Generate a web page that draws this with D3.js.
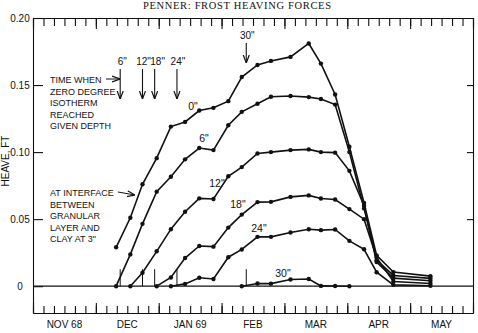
<!DOCTYPE html>
<html>
<head>
<meta charset="utf-8">
<script src="https://cdn.jsdelivr.net/npm/d3@7"></script>
<style>
  body { margin: 0; background: #fff; }
  svg { display: block; }
  text { font-family: 'Liberation Sans', Arial, sans-serif; fill: #111; }
</style>
</head>
<body>
<script>
// weekly survey dates (heave, ft)
const dates = [
  '1968-12-11', '1968-12-18', '1968-12-24', '1968-12-31', '1969-01-07', '1969-01-14',
  '1969-01-21', '1969-01-28', '1969-02-04', '1969-02-10', '1969-02-17', '1969-02-23',
  '1969-03-04', '1969-03-13', '1969-03-19', '1969-03-26', '1969-04-02', '1969-04-09',
  '1969-04-15', '1969-04-23', '1969-05-11'
]
const heave0 = [0.029, 0.051, 0.076, 0.0955, 0.119, 0.1225, 0.131, 0.133, 0.138, 0.156, 0.165,
  0.168, 0.171, 0.181, 0.166, 0.143, 0.104, 0.062, 0.023, 0.0105, 0.0075]
const heave6 = [0, 0.0237, 0.0465, 0.0705, 0.0816, 0.0946, 0.103, 0.1015, 0.120, 0.130, 0.136,
  0.1413, 0.1418, 0.141, 0.1396, 0.1354, 0.100, 0.058, 0.0194, 0.008, 0.0058]
const heave12 = [null, 0, 0.010, 0.026, 0.0425, 0.0555, 0.0655, 0.065, 0.082, 0.0888, 0.099,
  0.100, 0.1015, 0.102, 0.100, 0.0996, 0.086, 0.060, 0.018, 0.006, 0.004]
const heave18 = [null, null, null, 0, 0.0065, 0.021, 0.030, 0.0295, 0.0437, 0.0534, 0.0627,
  0.0629, 0.0666, 0.0677, 0.0654, 0.0646, 0.0575, 0.050, 0.0213, 0.0035, 0.002]
const heave24 = [null, null, null, null, 0, 0.0017, 0.0063, 0.0054, 0.0216, 0.0274, 0.0368,
  0.0368, 0.040, 0.0425, 0.0418, 0.0423, 0.0338, 0.0275, 0.0104, 0.001, 0.0003]
const heave30 = [null, null, null, null, null, null, null, null, null, 0, 0.002,
  0.0019, 0.005, 0.0054, 0.0002, 0.0001, 0, null, null, null, null]

// time when zero degree isotherm reached given depth
const isoDepths = ['6"', '12"', '18"', '24"', '30"']
const isoDates = ['1968-12-13', '1968-12-24', '1968-12-30', '1969-01-10', '1969-02-12']

const monthLabels = ['NOV 68', 'DEC', 'JAN 69', 'FEB', 'MAR', 'APR', 'MAY']
const yTicks = [0, 0.05, 0.10, 0.15, 0.20]

const W = 478, H = 333

// months counted from 1 Nov 1968, each month drawn the same width
function monthPos(s) {
  const [yr, m, d] = s.split('-').map(Number)
  const days = new Date(yr, m, 0).getDate()
  return (yr - 1968) * 12 + (m - 11) + (d - 1) / days
}

const x = d3.scaleLinear().domain([0, 7]).range([33, 473])
const y = d3.scaleLinear().domain([-0.02, 0.2]).range([313, 18])

const svg = d3.select('body').append('svg')
  .attr('width', W)
  .attr('height', H)

svg.append('defs').append('marker')
  .attr('id', 'head')
  .attr('viewBox', '0 -4 8 8')
  .attr('refX', 8)
  .attr('refY', 0)
  .attr('markerWidth', 8)
  .attr('markerHeight', 8)
  .attr('markerUnits', 'userSpaceOnUse')
  .attr('orient', 'auto')
  .append('path')
  .attr('d', 'M0,-3L8,0L0,3')
  .attr('fill', 'none')
  .attr('stroke', '#111')
  .attr('stroke-width', 1.2)

// page header
svg.append('text')
  .attr('x', 143)
  .attr('y', 9)
  .attr('textLength', 188)
  .style('font-family', "'Liberation Serif', serif")
  .style('font-size', '10.5px')
  .text('PENNER: FROST HEAVING FORCES')

const minor = d3.range(0, 7 + 1e-9, 1 / 6)
const major = d3.range(0, 8)

function styleAxis(g) {
  g.selectAll('path, line').attr('stroke', '#111').attr('stroke-width', 1.1)
  g.selectAll('text').remove()
}

svg.append('g').attr('transform', `translate(0,${y(0.2)})`)
  .call(d3.axisTop(x).tickValues(minor).tickSize(-8).tickSizeOuter(0)).call(styleAxis)
svg.append('g').attr('transform', `translate(0,${y(0.2)})`)
  .call(d3.axisTop(x).tickValues(major).tickSize(-11).tickSizeOuter(0)).call(styleAxis)
svg.append('g').attr('transform', `translate(0,${y(-0.02)})`)
  .call(d3.axisBottom(x).tickValues(minor).tickSize(-7).tickSizeOuter(0)).call(styleAxis)
svg.append('g').attr('transform', `translate(0,${y(-0.02)})`)
  .call(d3.axisBottom(x).tickValues(major).tickSize(-10).tickSizeOuter(0)).call(styleAxis)

svg.append('g').attr('transform', `translate(${x(7)},0)`)
  .call(d3.axisRight(y).tickValues([0.05, 0.10, 0.15]).tickSize(-6).tickSizeOuter(0))
  .call(styleAxis)

const yAxis = svg.append('g').attr('transform', `translate(${x(0)},0)`)
  .call(d3.axisLeft(y).tickValues(yTicks).tickSize(-10).tickSizeOuter(0)
    .tickFormat(d => d === 0 ? '0' : d.toFixed(2)))
yAxis.selectAll('path, line').attr('stroke', '#111').attr('stroke-width', 1.1)
yAxis.selectAll('text')
  .attr('x', -13)
  .attr('text-anchor', 'middle')
  .style('font-size', '10px')
  .attr('fill', '#111')

// month names under the lower axis
svg.append('g').selectAll('text')
  .data(monthLabels)
  .enter()
  .append('text')
  .attr('x', (d, i) => x(i + 0.5))
  .attr('y', 328)
  .attr('text-anchor', 'middle')
  .style('font-size', '10px')
  .text(d => d)

svg.append('text')
  .attr('transform', `translate(9,${161}) rotate(-90)`)
  .attr('text-anchor', 'middle')
  .style('font-size', '10px')
  .text('HEAVE, FT')

svg.append('line')
  .attr('x1', x(0)).attr('x2', x(7))
  .attr('y1', y(0)).attr('y2', y(0))
  .attr('stroke', '#111')
  .attr('stroke-width', 1.3)

// short marks on the zero line at the isotherm dates
svg.append('g').selectAll('line')
  .data(isoDates)
  .enter()
  .append('line')
  .attr('x1', d => x(monthPos(d))).attr('x2', d => x(monthPos(d)))
  .attr('y1', y(0)).attr('y2', y(0) - 17)
  .attr('stroke', '#111')
  .attr('stroke-width', 1)

const series = [heave30, heave24, heave18, heave12, heave6, heave0]
const line = d3.line()
  .defined(d => d.v != null)
  .x(d => x(monthPos(d.t)))
  .y(d => y(d.v))

series.forEach(vals => {
  const pts = dates.map((t, i) => ({ t, v: vals[i] }))
  svg.append('path')
    .datum(pts)
    .attr('d', line)
    .attr('fill', 'none')
    .attr('stroke', '#111')
    .attr('stroke-width', 1.6)
  svg.append('g').selectAll('circle')
    .data(pts.filter(p => p.v != null))
    .enter()
    .append('circle')
    .attr('cx', d => x(monthPos(d.t)))
    .attr('cy', d => y(d.v))
    .attr('r', 2.2)
    .attr('fill', '#111')
})

// arrows for the isotherm dates
isoDates.forEach((d, i) => {
  const px = x(monthPos(d))
  const deep = i === 4
  const top = deep ? 43 : 69
  const bot = deep ? 63 : 99
  svg.append('line')
    .attr('x1', px).attr('x2', px)
    .attr('y1', top).attr('y2', bot)
    .attr('stroke', '#111')
    .attr('stroke-width', 1.1)
    .attr('marker-end', 'url(#head)')
  svg.append('text')
    .attr('x', px + (i === 2 ? 3 : i === 0 ? 2 : 1))
    .attr('y', top - 4)
    .attr('text-anchor', 'middle')
    .style('font-size', '10px')
    .text(isoDepths[i])
})

function noteBlock(lines, x0, y0) {
  svg.append('g').selectAll('text')
    .data(lines)
    .enter()
    .append('text')
    .attr('x', x0)
    .attr('y', (d, i) => y0 + i * 11.5)
    .style('font-size', '9px')
    .text(d => d)
}

noteBlock(['TIME WHEN', 'ZERO DEGREE', 'ISOTHERM', 'REACHED', 'GIVEN DEPTH'], 50, 83)
svg.append('line')
  .attr('x1', 106).attr('x2', 120)
  .attr('y1', 79).attr('y2', 79)
  .attr('stroke', '#111')
  .attr('stroke-width', 1)
  .attr('marker-end', 'url(#head)')

noteBlock(['AT INTERFACE', 'BETWEEN', 'GRANULAR', 'LAYER AND', 'CLAY AT 3"'], 50, 196)
svg.append('line')
  .attr('x1', 118).attr('x2', 135)
  .attr('y1', 192).attr('y2', 195)
  .attr('stroke', '#111')
  .attr('stroke-width', 1)
  .attr('marker-end', 'url(#head)')

// depth labels beside each curve
const curveLabels = [
  { t: '0"', x: 193, y: 110 },
  { t: '6"', x: 204, y: 142 },
  { t: '12"', x: 217, y: 187 },
  { t: '18"', x: 238, y: 208 },
  { t: '24"', x: 259, y: 232 },
  { t: '30"', x: 283, y: 277 }
]
svg.append('g').selectAll('text')
  .data(curveLabels)
  .enter()
  .append('text')
  .attr('x', d => d.x)
  .attr('y', d => d.y)
  .attr('text-anchor', 'middle')
  .style('font-size', '10.5px')
  .text(d => d.t)
</script>
</body>
</html>
